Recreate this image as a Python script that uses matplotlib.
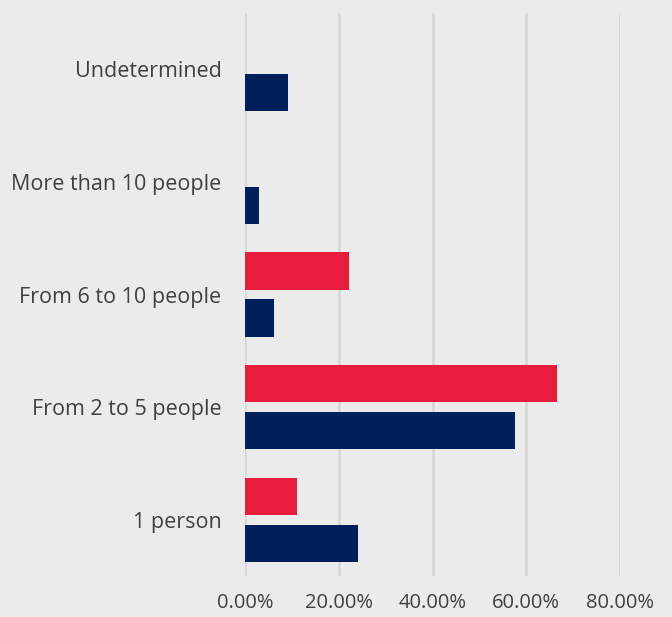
import numpy as np
from matplotlib import pyplot as plt

categories = ["1 person", "From 2 to 5 people", "From 6 to 10 people",
              "More than 10 people", "Undetermined"]
red_vals = [0.111, 0.666, 0.222, 0.0, 0.0]
navy_vals = [0.241, 0.576, 0.062, 0.030, 0.092]
ticks = [0.0, 0.2, 0.4, 0.6, 0.8]

plt.rcParams['font.family'] = ['Open Sans', 'DejaVu Sans']
bg = "#ebebeb"

fig = plt.figure(figsize=(6.72, 6.17), dpi=100, facecolor=bg)
ax = fig.add_axes([245/672, 1 - 576/617, (620-245)/672, (576-13)/617])
ax.set_facecolor(bg)

y = np.arange(len(categories))
h = 0.33
off = 0.209
ax.barh(y + off, red_vals, height=h, color="#e81c3c", zorder=3)
ax.barh(y - off, navy_vals, height=h, color="#00205b", zorder=3)

ax.set_xlim(0, 0.8)
ax.set_ylim(-0.5, 4.5)
ax.set_xticks(ticks)
ax.set_xticklabels([f"{t*100:.2f}%" for t in ticks])
ax.set_yticks(y)
ax.set_yticklabels(categories)
ax.tick_params(axis='both', length=0, labelcolor="#404040")
ax.tick_params(axis='y', labelsize=15.5, pad=17)
ax.tick_params(axis='x', labelsize=14.5, pad=12)
ax.grid(axis='x', color="#d6d6d6", linewidth=1.8, zorder=0)
ax.set_axisbelow(True)
for s in ax.spines.values():
    s.set_visible(False)

fig.savefig("out.png", dpi=100, facecolor=bg)
